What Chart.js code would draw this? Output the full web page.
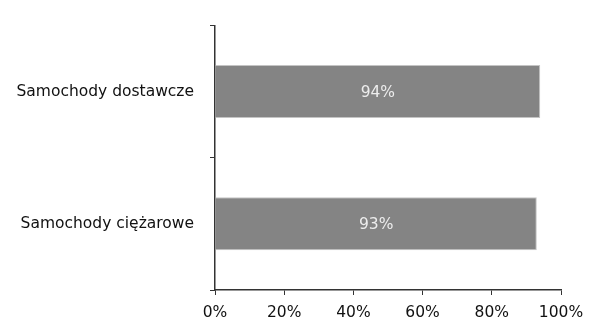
<!DOCTYPE html>
<html>
<head>
<meta charset="utf-8">
<script src="https://cdn.jsdelivr.net/npm/chart.js@4"></script>
<style>
  html, body { margin: 0; padding: 0; background: #fff; }
  #wrap { width: 589px; height: 322px; }
</style>
</head>
<body>
<div id="wrap"><canvas id="chart"></canvas></div>
<script>
const categories = ['Samochody dostawcze', 'Samochody ciężarowe'];
const shares = [94, 93];
const tickLabels = ['0%', '20%', '40%', '60%', '80%', '100%'];

const fontFamily = '"DejaVu Sans", Verdana, sans-serif';

// draws the percentage in the middle of each bar
const barLabels = {
    id: 'barLabels',
    afterDatasetsDraw(chart) {
        const ctx = chart.ctx;
        ctx.save();
        ctx.font = '15.5px ' + fontFamily;
        ctx.fillStyle = '#ededed';
        ctx.textAlign = 'center';
        ctx.textBaseline = 'middle';
        chart.getDatasetMeta(0).data.forEach((bar, i) => {
            const mid = (bar.x + bar.base) / 2;
            ctx.fillText(shares[i] + '%', mid, bar.y + 1);
        });
        ctx.restore();
    }
};

new Chart(document.getElementById('chart'), {
    type: 'bar',
    data: {
        labels: categories,
        datasets: [{
            data: shares,
            backgroundColor: '#848484',
            borderColor: '#c4c4c4',
            borderWidth: 1,
            categoryPercentage: 0.4,
            barPercentage: 1
        }]
    },
    plugins: [barLabels],
    options: {
        indexAxis: 'y',
        responsive: true,
        maintainAspectRatio: false,
        animation: false,
        layout: { padding: { top: 24, right: 28, bottom: 0, left: 0 } },
        plugins: {
            legend: { display: false },
            tooltip: { enabled: false }
        },
        scales: {
            x: {
                min: 0,
                max: 100,
                ticks: {
                    stepSize: 20,
                    color: '#111',
                    padding: 9,
                    maxRotation: 0,
                    font: { family: fontFamily, size: 15.5 },
                    callback: (v, i) => tickLabels[i]
                },
                grid: { drawOnChartArea: false, tickLength: 5, color: '#333' },
                border: { color: '#333', width: 1.5 },
                afterFit: (axis) => {
                    axis.height = 32;
                    axis.paddingLeft = 0;
                    axis.paddingRight = 0;
                }
            },
            y: {
                ticks: {
                    color: '#111',
                    padding: 16,
                    font: { family: fontFamily, size: 15.5 }
                },
                grid: { drawOnChartArea: false, tickLength: 5, color: '#333', offset: true },
                border: { color: '#333', width: 1.5 },
                afterFit: (axis) => { axis.width = 215; }
            }
        }
    }
});
</script>
</body>
</html>
